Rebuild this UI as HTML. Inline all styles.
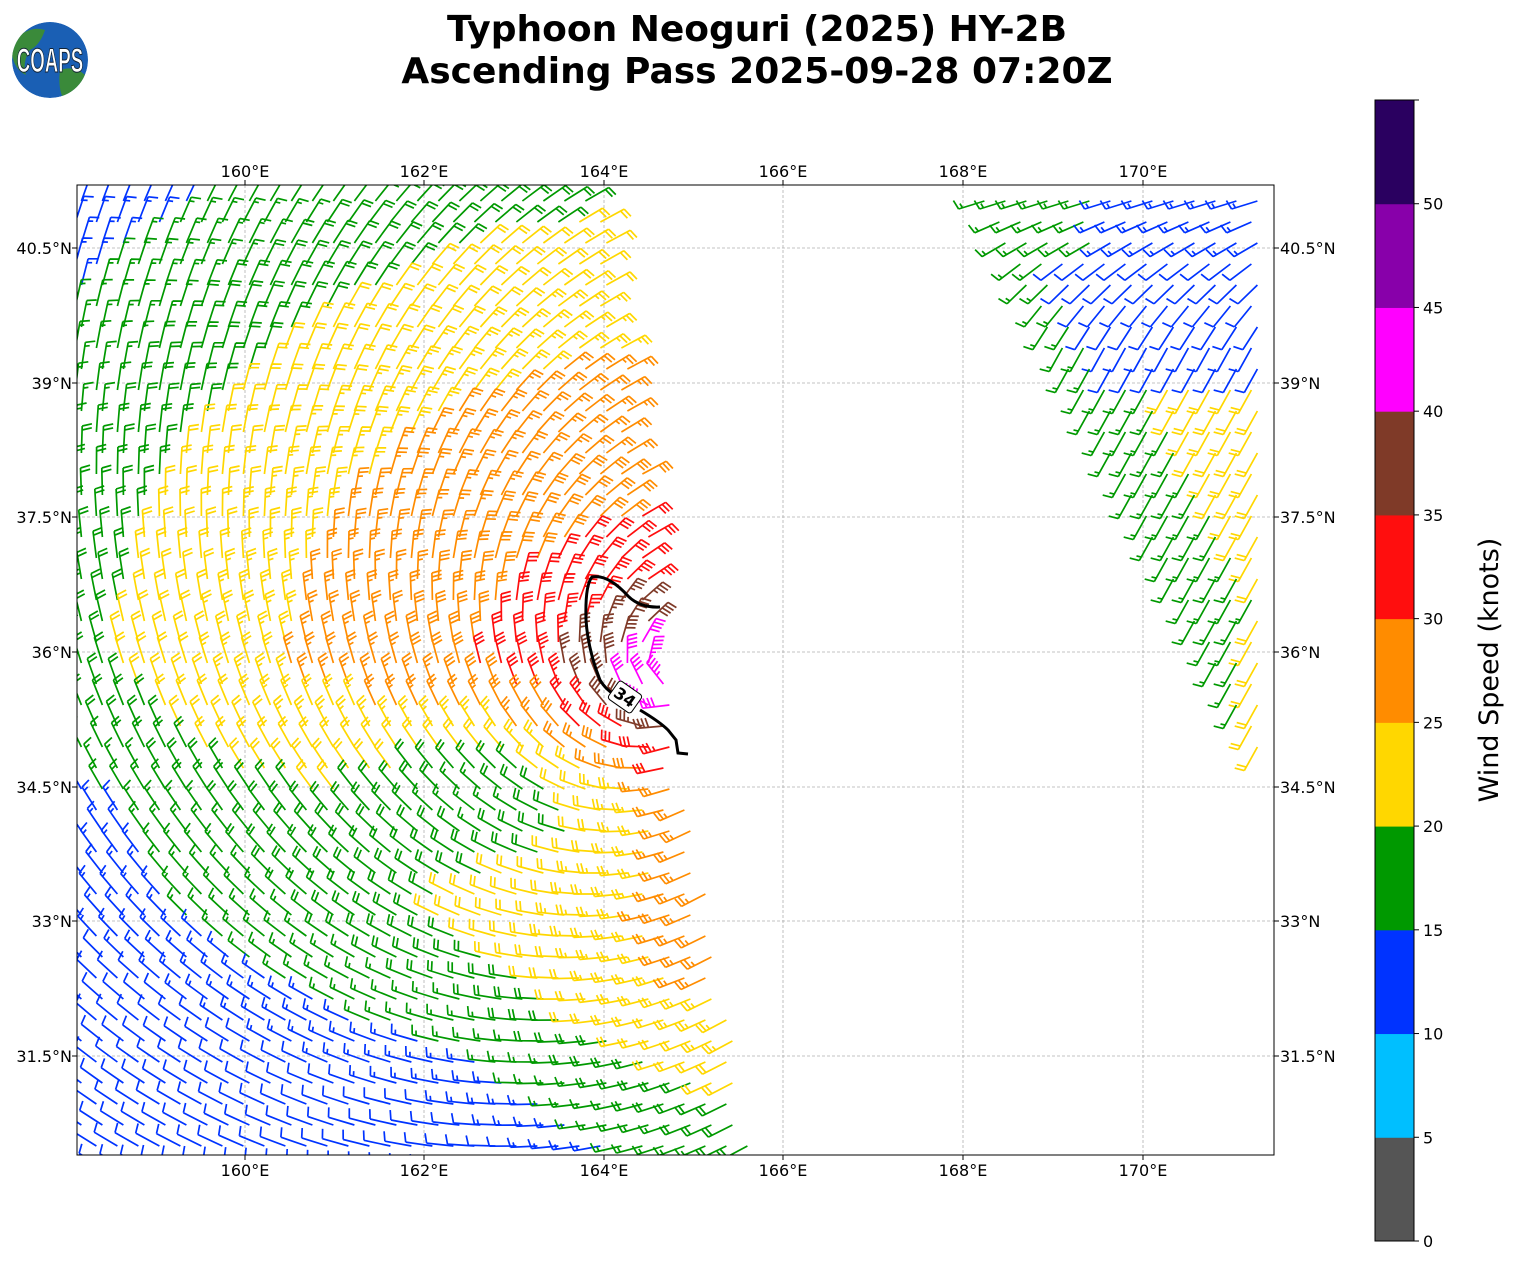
<!DOCTYPE html>
<html><head><meta charset="utf-8"><style>
body{margin:0;background:#fff;}
svg{display:block;font-family:"DejaVu Sans","Liberation Sans",sans-serif;}
</style></head><body>
<svg id="s" width="1513" height="1264" viewBox="0 0 1513 1264" xmlns="http://www.w3.org/2000/svg">
<defs><clipPath id="pc"><rect x="77" y="185" width="1197" height="970"/></clipPath>
<clipPath id="gc"><circle cx="50" cy="60" r="38"/></clipPath></defs>
<rect width="1513" height="1264" fill="#fff"/>
<g clip-path="url(#gc)">
<circle cx="50" cy="60" r="38" fill="#1a5fb4"/>
<path d="M14 40 Q30 25 45 30 Q40 45 30 50 Q22 62 26 75 Q15 70 12 55 Z" fill="#3a8a3a"/>
<path d="M60 70 Q75 65 85 75 Q78 92 62 96 Q58 85 60 70Z" fill="#3a8a3a"/>
</g>
<text x="0" y="0" text-anchor="middle" font-size="26" font-weight="bold" fill="#fff" stroke="#123" stroke-width="0.8" transform="translate(50 72) scale(0.72 1.3)" font-family="Liberation Sans,sans-serif">COAPS</text>
<text x="757" y="41" text-anchor="middle" font-size="36" font-weight="bold">Typhoon Neoguri (2025) HY-2B</text>
<text x="757" y="83" text-anchor="middle" font-size="36" font-weight="bold">Ascending Pass 2025-09-28 07:20Z</text>
<g id="grid" stroke="#b0b0b0" stroke-width="0.8" stroke-dasharray="3,2"></g>
<g id="barbs" clip-path="url(#pc)" fill="none" stroke-width="1.7" stroke-linecap="butt"></g>
<path d="M660 607 Q640 608 628 596 Q608 574 592 577 Q585 585 586 620 Q588 650 600 680 Q606 690 614 694" fill="none" stroke="#000" stroke-width="3"/>
<path d="M640 710 Q660 722 668 730 L676 740 L678 753 L688 754" fill="none" stroke="#000" stroke-width="3"/>
<g transform="translate(625 697) rotate(35)"><rect x="-14" y="-11" width="28" height="22" rx="3" fill="#fff" stroke="#000" stroke-width="1"/><text x="0" y="6" text-anchor="middle" font-size="16" font-weight="bold">34</text></g>
<rect x="77" y="185" width="1197" height="970" fill="none" stroke="#000" stroke-width="1"/>
<g id="ticks" font-size="16"></g>
<g id="cb"></g>
<text transform="translate(1498 670) rotate(-90)" text-anchor="middle" font-size="27">Wind Speed (knots)</text>
</svg>
<script>
var NS="http://www.w3.org/2000/svg";
function el(t,a,p){var e=document.createElementNS(NS,t);for(var k in a)e.setAttribute(k,a[k]);p.appendChild(e);return e;}
var cols=["#555555","#00bfff","#0033ff","#009900","#ffd700","#ff8c00","#ff0e0e","#7f3a28","#ff00ff","#8800aa","#2a0060"];
function col(s){var i=Math.floor(s/5);if(i<0)i=0;if(i>10)i=10;return cols[i];}
var g=document.getElementById('grid'),tk=document.getElementById('ticks');
var lons=[160,162,164,166,168,170],lx=[245,424,604,783,963,1143];
for(var i=0;i<6;i++){el('line',{x1:lx[i],y1:185,x2:lx[i],y2:1155},g);
 el('line',{x1:lx[i],y1:1155,x2:lx[i],y2:1160,stroke:'#000'},tk);
 el('line',{x1:lx[i],y1:180,x2:lx[i],y2:185,stroke:'#000'},tk);
 var t=el('text',{x:lx[i],y:1176,'text-anchor':'middle'},tk);t.textContent=lons[i]+'°E';
 t=el('text',{x:lx[i],y:177,'text-anchor':'middle'},tk);t.textContent=lons[i]+'°E';}
var lats=['40.5','39','37.5','36','34.5','33','31.5'],ly=[248,383,517,652,787,921,1056];
for(i=0;i<7;i++){el('line',{x1:77,y1:ly[i],x2:1274,y2:ly[i]},g);
 el('line',{x1:72,y1:ly[i],x2:77,y2:ly[i],stroke:'#000'},tk);
 el('line',{x1:1274,y1:ly[i],x2:1279,y2:ly[i],stroke:'#000'},tk);
 t=el('text',{x:72,y:ly[i]+6,'text-anchor':'end'},tk);t.textContent=lats[i]+'°N';
 t=el('text',{x:1280,y:ly[i]+6},tk);t.textContent=lats[i]+'°N';}
var cb=document.getElementById('cb');
var y0=1241,h=(1241-100)/11;
for(i=0;i<11;i++)el('rect',{x:1375,y:y0-(i+1)*h,width:39,height:h+0.5,fill:cols[i]},cb);
el('rect',{x:1375,y:100,width:39,height:1141,fill:'none',stroke:'#000','stroke-width':1},cb);
for(i=0;i<=11;i++){var yy=y0-i*h;el('line',{x1:1414,y1:yy,x2:1419,y2:yy,stroke:'#000'},cb);
 if(i<=10){t=el('text',{x:1423,y:yy+6,'font-size':16},cb);t.textContent=(i*5);}}
var B=document.getElementById('barbs');
function barb(x,y,ux,uy,s){
 var c=col(s),r=Math.round(s/5)*5,L=27;
 var tx=x+ux*L,ty=y+uy*L;
 var d='M'+x.toFixed(1)+' '+y.toFixed(1)+'L'+tx.toFixed(1)+' '+ty.toFixed(1);
 var px=-uy,py=ux;var fx=px*0.96+ux*0.25,fy=py*0.96+uy*0.25;
 var pos=0;var n10=Math.floor(r/10),n5=(r%10)>=5?1:0;
 for(var k=0;k<n10;k++){var bx=tx-ux*pos,by=ty-uy*pos;d+='M'+bx.toFixed(1)+' '+by.toFixed(1)+'l'+(fx*10).toFixed(1)+' '+(fy*10).toFixed(1);pos+=4;}
 if(n5){if(n10==0)pos=4;var bx=tx-ux*pos,by=ty-uy*pos;d+='M'+bx.toFixed(1)+' '+by.toFixed(1)+'l'+(fx*5).toFixed(1)+' '+(fy*5).toFixed(1);}
 el('path',{d:d,stroke:c},B);
}
function interp(tab,v){if(v<=tab[0][0])return tab[0][1];for(var i=1;i<tab.length;i++){if(v<=tab[i][0]){var a=tab[i-1],b=tab[i];return a[1]+(b[1]-a[1])*(v-a[0])/(b[0]-a[0]);}}return tab[tab.length-1][1];}
var redge=[[185,600],[450,640],[700,668],[800,688],[1000,722],[1160,757]];
var stab=[[0,44],[50,42],[90,37],[150,32],[250,28],[390,25],[560,20],[750,15],[900,12],[1200,10]];
var cx=675,cy=680;
for(var yy=180;yy<1175;yy+=21){
 for(var xx=72+((yy/21)%2)*6;xx<1285;xx+=21){
  var x=xx,y=yy;
  if(x<=interp(redge,y+10)){
   var dx=x-cx,dy=y-cy;var dye=dy>0?dy*1.3:dy*1.2;var d=Math.sqrt(dx*dx+dye*dye);
   var s=interp(stab,d);
   if(dy>0){
     s-=Math.min(4.5,dy*0.035);
     s-=Math.max(0,dy-250)*0.012;
     s+=Math.max(0,x-480)*0.025*Math.min(1,dy/300);
     var gy=(dy-110)/80,gx=(dx+150)/150;
     s-=8*Math.exp(-gy*gy)*Math.exp(-gx*gx);
   }
   if(s<10.5)s=10.5;
   var r=Math.sqrt(dx*dx+dy*dy)||1;
   var wx=dy/r-0.35*dx/r,wy=-dx/r-0.35*dy/r;var wn=Math.sqrt(wx*wx+wy*wy);
   barb(x,y,-wx/wn,-wy/wn,s);
  } else {
   var le=970+(y-185)*(280/580);
   if(x>=le && x<=1262 && y<=765 && y>=190){
    var f=Math.min(1,(y-190)/150);
    var ux=-1+f*0.5,uy=0.25+f*0.65;var un=Math.sqrt(ux*ux+uy*uy);
    var s;
    if(y<255)s=(x<1100?17:13);
    else if(y<390)s=(x-le<50?17:12);
    else if(y<620)s=(x-le<90?17:22);
    else s=(x>1245?22:17);
    barb(x,y,ux/un,uy/un,s);
   }
  }
 }
}
</script>
</body></html>
